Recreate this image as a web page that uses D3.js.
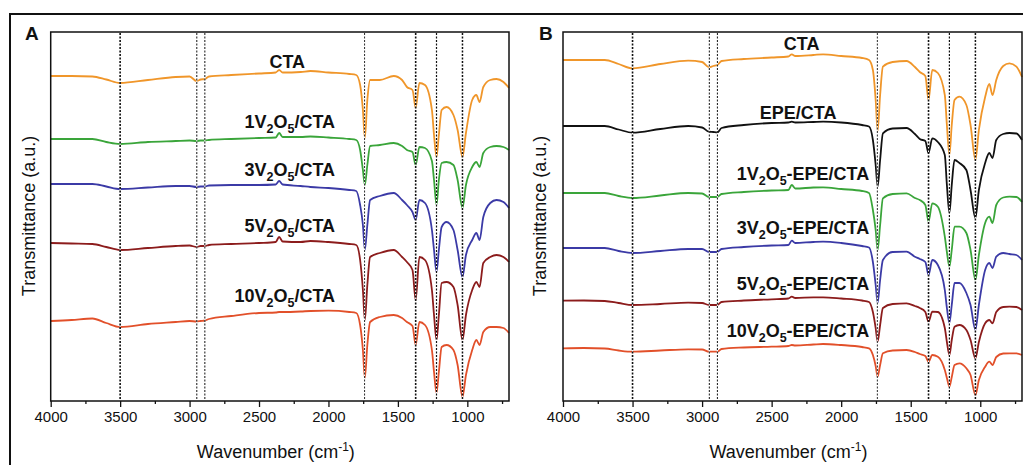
<!DOCTYPE html>
<html>
<head>
<meta charset="utf-8">
<script src="https://cdn.jsdelivr.net/npm/d3@7"></script>
<style>
body { margin: 0; background: #fff; }
svg { display: block; font-family: "Liberation Sans", Arial, sans-serif; }
.curve { fill: none; stroke-width: 1.8; stroke-linejoin: round; }
</style>
</head>
<body>
<svg id="chart" width="1023" height="465"></svg>
<script>
// wavenumber grid (cm-1) shared by all spectra
var wavenumbers = [4000, 3850, 3700, 3600, 3500, 3300, 3100, 3000, 2950, 2920, 2890, 2860, 2700, 2500, 2380, 2355, 2330, 2200, 2130, 2000,
    1850, 1800, 1772, 1752, 1738, 1720, 1700, 1630, 1530, 1470, 1435, 1395, 1372, 1345, 1305, 1255, 1240, 1222, 1205, 1185,
    1150, 1100, 1070, 1035, 1010, 965, 935, 912, 885, 835, 790, 740, 700];

// panel A spectra, transmittance (a.u., stacked)
var ctaA = [325, 325, 324.5, 321.5, 318, 321, 324, 324.5, 320, 321.5, 322, 324.5, 326, 327.5, 328.5, 331, 328.5, 329, 330, 328.5,
    327, 326, 316, 291, 263, 301, 321, 321, 325, 321, 314, 311, 293, 318, 316, 291, 266, 244, 266, 291,
    294, 286, 271, 244, 268, 301, 306, 299, 314, 321, 322, 319, 313];
var v1A = [262, 262, 262, 259, 257, 259, 260, 260.5, 260, 260.5, 260.5, 261, 262, 263, 263.5, 268, 264, 264, 264.5, 263.5,
    262, 261, 251, 231, 216, 236, 255, 256, 258, 255, 251, 249, 236, 254, 253, 240, 221, 196, 221, 238,
    239, 236, 221, 193, 216, 234, 239, 234, 248, 254, 255, 254, 251];
var v3A = [217, 217, 217, 214.5, 212, 213.5, 215, 215, 214, 214.5, 214.5, 215.5, 216, 216, 216.5, 220, 216.5, 215, 214, 213,
    211, 210, 196, 176, 151, 176, 201, 205, 208, 201, 196, 189, 181, 201, 198, 171, 151, 129, 151, 174,
    179, 171, 151, 124, 146, 161, 168, 161, 184, 198, 201, 199, 193];
var v5A = [158, 157.5, 157, 154, 151, 153, 155, 155.5, 154, 155, 155, 156, 157, 158, 159, 164, 159.5, 159, 160, 159,
    157, 156, 141, 111, 81, 116, 144, 148, 151, 144, 139, 131, 101, 144, 141, 111, 86, 61, 86, 118,
    119, 114, 96, 61, 86, 111, 119, 114, 138, 144, 146, 144, 139];
var v10A = [80, 81, 82.5, 78, 74, 77, 79, 80, 79.5, 80, 80.5, 82, 85, 88, 88.5, 89, 89, 89.5, 90, 90.3,
    89, 88, 76, 51, 23, 56, 79, 84, 86, 83, 79, 75, 56, 79, 76, 51, 29, 8, 29, 54,
    56, 51, 36, 4, 26, 51, 61, 56, 69, 74, 74, 73, 68];

// panel B spectra
var ctaB = [341, 341, 341, 337, 332.7, 337, 340.3, 339, 333.7, 335, 336, 340, 342, 343.5, 344.5, 346.7, 345, 346, 346.7, 345,
    343, 341, 331, 301, 270, 306, 334.3, 339, 340, 334, 329, 325, 301, 331, 328, 306, 276, 246, 276, 301,
    304.3, 296, 276, 241, 271, 304, 317, 306, 321, 335, 337.7, 334.3, 324];
var epeB = [275, 275, 275, 271.5, 268.3, 272, 275, 273.5, 269.3, 269, 268.7, 273, 276, 278, 278.5, 279.3, 278.5, 279, 279.3, 278.5,
    276, 274.5, 261, 236, 214.3, 241, 267.7, 272.5, 273, 267, 262, 260, 248, 262.7, 259, 246, 216, 188, 216, 241,
    238, 231, 211, 183, 211, 238, 248, 243, 261, 267, 268, 267.5, 261];
var v1B = [208, 208, 208, 205, 203, 205.5, 208, 207.5, 204, 204, 204, 207, 209, 210.5, 211, 216, 212.5, 213.5, 213.7, 212,
    210, 208, 191, 171, 151, 176, 202.7, 207, 207.7, 203, 201, 196, 179.3, 197.7, 194.3, 164.3, 149, 134.3, 151, 174.3,
    174.3, 168, 151, 121, 146, 178, 184.3, 178, 196, 203.5, 204.3, 204, 199];
var v3B = [153, 153, 153, 150, 148, 150, 152, 152, 149, 149, 149, 152, 154, 155.5, 156, 160.3, 158, 159, 159.3, 158,
    155, 153.5, 139, 116, 98, 121, 141, 149, 149.3, 144.3, 142, 139, 126, 141, 136, 111, 93, 78, 96, 118,
    118, 108, 96, 71, 96, 131, 138, 133, 144.3, 148, 147, 146, 141];
var v5B = [100.3, 100.5, 100, 98, 96, 97, 98.3, 98, 96, 96, 96, 99, 100.5, 101.7, 102.5, 104.3, 103, 103.7, 103.7, 102.5,
    100.5, 99, 89, 73, 59.3, 76, 93, 97, 97.7, 95, 93, 89, 79.3, 89.3, 89, 73, 59, 46, 61, 74.3,
    76, 71, 61, 42.7, 59, 77.7, 81, 77.7, 89, 94, 94.3, 94, 91];
var v10B = [52.7, 53, 52.5, 50.5, 49.3, 50.5, 51.7, 51.5, 49.3, 49.3, 49.3, 52, 53.5, 54.3, 55, 56, 55.5, 56.5, 57, 56,
    54, 52.7, 46, 35, 24.3, 36, 47.7, 50.5, 51, 49, 47, 45, 39.3, 46, 44.3, 31, 23, 14.3, 24, 36,
    37.7, 32.7, 26, 6, 21, 34.3, 39.3, 36, 44, 47.5, 47.7, 47.7, 46];

var namesA = ["CTA", "1V_2O_5/CTA", "3V_2O_5/CTA", "5V_2O_5/CTA", "10V_2O_5/CTA"];
var namesB = ["CTA", "EPE/CTA", "1V_2O_5-EPE/CTA", "3V_2O_5-EPE/CTA", "5V_2O_5-EPE/CTA", "10V_2O_5-EPE/CTA"];

// marked bands (cm-1)
var bands = [3500, 2948, 2890, 1740, 1372, 1222, 1035];

var majorTicks = [4000, 3500, 3000, 2500, 2000, 1500, 1000];
var minorTicks = [3750, 3250, 2750, 2250, 1750, 1250, 750];

var svg = d3.select("#chart");

// outer figure frame
svg.append("rect")
    .attr("x", 10).attr("y", 14)
    .attr("width", 1030).attr("height", 470)
    .attr("fill", "none").attr("stroke", "#111").attr("stroke-width", 2);

var orange = "#f0962a", green = "#3aa53a", purple = "#3b3aa6", brown = "#8c1c1c", red = "#e2502a";

function drawPanel(opts) {
    var x = d3.scaleLinear().domain([4000, 700]).range([opts.left, opts.right]);
    var y = d3.scaleLinear().domain([0, 369]).range([401, 32]);
    var g = svg.append("g");

    var line = d3.line()
        .x(function(d, i) { return x(wavenumbers[i]); })
        .y(function(d) { return y(d); })
        .curve(d3.curveMonotoneX);

    opts.series.forEach(function(s, i) {
        g.append("path")
            .datum(s)
            .attr("class", "curve")
            .attr("stroke", opts.colors[i])
            .attr("d", line);
    });

    // dotted band markers, white under-stroke gives the gaps seen on the curves
    var bandWidth = [1.6, 1, 1, 0.9, 1.6, 1.2, 1.5];
    bands.forEach(function(b, i) {
        g.append("line")
            .attr("x1", x(b)).attr("x2", x(b))
            .attr("y1", 33).attr("y2", 400)
            .attr("stroke", "#fff").attr("stroke-width", 1);
        g.append("line")
            .attr("x1", x(b)).attr("x2", x(b))
            .attr("y1", 33).attr("y2", 400)
            .attr("stroke", "#111").attr("stroke-width", bandWidth[i])
            .attr("stroke-dasharray", "2,1.5");
    });

    // frame
    g.append("rect")
        .attr("x", opts.left).attr("y", 32)
        .attr("width", opts.right - opts.left).attr("height", 369)
        .attr("fill", "none").attr("stroke", "#111").attr("stroke-width", 1.5);

    var ax = g.append("g").attr("transform", "translate(0,401)")
        .call(d3.axisBottom(x).tickValues(majorTicks).tickSize(6).tickPadding(4).tickFormat(d3.format("d")));
    ax.select(".domain").remove();
    ax.selectAll("line").attr("stroke", "#111").attr("stroke-width", 1.3);
    ax.selectAll("text").attr("font-size", 15).attr("fill", "#111")
        .attr("font-family", "Liberation Sans, Arial, sans-serif");

    var axm = g.append("g").attr("transform", "translate(0,401)")
        .call(d3.axisBottom(x).tickValues(minorTicks).tickSize(3).tickFormat(""));
    axm.select(".domain").remove();
    axm.selectAll("line").attr("stroke", "#111").attr("stroke-width", 1.3);

    // axis titles
    var xt = g.append("text")
        .attr("x", (opts.left + opts.right) / 2 - 4).attr("y", 458)
        .attr("text-anchor", "middle").attr("font-size", 18).attr("fill", "#111");
    xt.append("tspan").text("Wavenumber (cm");
    xt.append("tspan").attr("dy", -7).attr("font-size", 12).text("-1");
    xt.append("tspan").attr("dy", 7).text(")");

    g.append("text")
        .attr("transform", "translate(" + opts.ytitleX + ",216) rotate(-90)")
        .attr("text-anchor", "middle").attr("font-size", 18).attr("fill", "#111")
        .text("Transmittance (a.u.)");

    g.append("text")
        .attr("x", opts.letterX).attr("y", 40)
        .attr("font-size", 19).attr("font-weight", "bold").attr("fill", "#111")
        .text(opts.letter);

    // series labels
    opts.names.forEach(function(name, i) {
        var p = opts.labelAt[i];
        var t = g.append("text")
            .attr("x", x(p[0])).attr("y", y(p[1]))
            .attr("text-anchor", "end")
            .attr("font-size", 18).attr("font-weight", "bold").attr("fill", "#111");
        var parts = name.split("_");
        parts.forEach(function(part, k) {
            if (k === 0) {
                t.append("tspan").text(part);
            } else {
                t.append("tspan").attr("dy", 5).attr("font-size", 12.5).text(part.charAt(0));
                t.append("tspan").attr("dy", -5).text(part.slice(1));
            }
        });
    });
}

drawPanel({
    left: 50.7, right: 509, letter: "A", letterX: 25, ytitleX: 35,
    series: [ctaA, v1A, v3A, v5A, v10A],
    colors: [orange, green, purple, brown, red],
    names: namesA,
    labelAt: [[2168, 333], [1952, 273], [1952, 225], [1952, 169], [1952, 99]]
});

drawPanel({
    left: 563, right: 1022, letter: "B", letterX: 539, ytitleX: 546,
    series: [ctaB, epeB, v1B, v3B, v5B, v10B],
    colors: [orange, "#111", green, purple, brown, red],
    names: namesB,
    labelAt: [[2156, 351], [2034, 282], [1798, 221], [1798, 167], [1798, 111], [1798, 64]]
});
</script>
</body>
</html>
